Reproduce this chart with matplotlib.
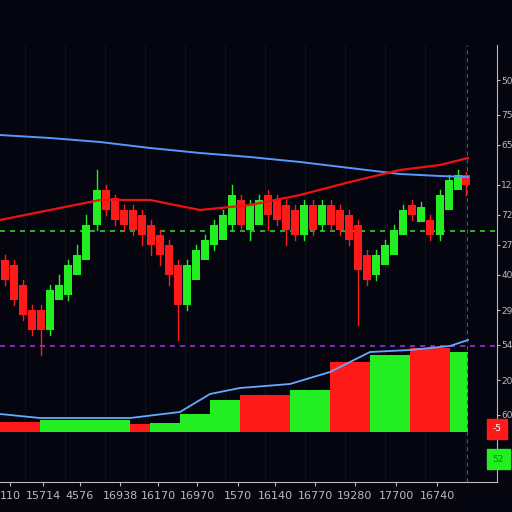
import numpy as np
import matplotlib.pyplot as plt
from matplotlib.patches import Rectangle

# candles: x centre, open, close, high, low (price units, higher = up)
cx = [5, 14, 23, 32, 41, 50, 59, 68, 77, 86, 97, 106, 115, 124, 133, 142, 151, 160, 169, 178,
      187, 196, 205, 214, 223, 232, 241, 250, 259, 268, 277, 286, 295, 304, 313, 322, 331, 340,
      349, 358, 367, 376, 385, 394, 403, 412, 421, 430, 440, 449, 458, 466]
c_open = [240, 235, 215, 190, 190, 170, 200, 205, 225, 240, 275, 310, 302, 290, 290, 285, 275, 265, 255, 235,
          195, 220, 240, 255, 260, 275, 300, 270, 275, 305, 300, 295, 290, 265, 295, 275, 295, 290,
          285, 275, 245, 225, 235, 245, 265, 295, 278, 280, 265, 290, 310, 325]
c_close = [220, 200, 185, 170, 170, 210, 215, 235, 245, 275, 310, 290, 280, 275, 270, 265, 255, 245, 225, 195,
           235, 250, 260, 275, 285, 305, 275, 295, 300, 285, 280, 270, 265, 295, 270, 295, 275, 270,
           260, 230, 220, 245, 255, 270, 290, 285, 293, 265, 305, 320, 325, 315]
c_high = [245, 240, 220, 195, 195, 215, 225, 240, 255, 285, 330, 315, 305, 295, 295, 290, 280, 270, 260, 240,
          240, 255, 265, 280, 290, 315, 305, 300, 305, 310, 305, 300, 295, 300, 300, 300, 300, 295,
          290, 280, 250, 250, 260, 275, 295, 300, 298, 285, 310, 325, 330, 328]
c_low = [215, 195, 180, 165, 145, 165, 210, 200, 240, 270, 270, 285, 275, 270, 265, 255, 245, 235, 215, 160,
         190, 245, 255, 250, 280, 270, 270, 260, 295, 270, 275, 255, 260, 260, 265, 270, 270, 265,
         255, 175, 215, 220, 250, 265, 285, 280, 288, 260, 260, 310, 320, 305]

# moving averages
ma_x = [0, 50, 100, 150, 200, 250, 300, 350, 400, 440, 468]
ma_blue = [365, 362, 358, 352, 347, 343, 338, 332, 326, 324, 323]
ma_red = [280, 290, 300, 300, 290, 295, 305, 318, 330, 335, 342]

# lower histogram (height above base) and colours
h_x = [0, 40, 130, 150, 180, 210, 240, 290, 330, 370, 410, 450, 468]
h_val = [10, 12, 8, 9, 18, 32, 37, 42, 70, 77, 84, 80]
h_col = ['r', 'g', 'r', 'g', 'g', 'g', 'r', 'g', 'r', 'g', 'r', 'g']
osc_x = [0, 40, 130, 180, 210, 240, 290, 330, 370, 410, 450, 468]
osc_y = [18, 14, 14, 20, 38, 44, 48, 60, 80, 82, 86, 92]

right_labels = ['50', '75', '65', '12', '72', '27', '40', '29', '54', '20', '60']
right_pos = [420, 385, 355, 315, 285, 255, 225, 190, 155, 120, 85]
x_labels = ['110', '15714', '4576', '16938', '16170', '16970', '1570', '16140',
            '16770', '19280', '17700', '16740']
x_pos = [10, 43, 80, 120, 158, 197, 238, 275, 315, 355, 396, 437]

GREEN = '#22ee22'
RED = '#ff1a1a'
BG = '#05050f'
base = 68

fig = plt.figure(figsize=(5.12, 5.12), dpi=100, facecolor=BG)
ax = fig.add_axes([0, 30 / 512, 497 / 512, 437 / 512], facecolor=BG)
ax.set_xlim(0, 497)
ax.set_ylim(18, 455)

for x in range(25, 497, 40):
    ax.axvline(x, color='#141428', lw=0.6, zorder=0)

# histogram
for i in range(len(h_val)):
    ax.add_patch(Rectangle((h_x[i], base), h_x[i + 1] - h_x[i], h_val[i],
                           color=GREEN if h_col[i] == 'g' else RED, lw=0, zorder=1))
ax.plot(osc_x, [base + v for v in osc_y], color='#66aaff', lw=1.3, zorder=2)

ax.axhline(269, color='#33cc33', ls=(0, (3, 3)), lw=1.2, zorder=1)
ax.axhline(154, color='#9933cc', ls=(0, (3, 3)), lw=1.2, zorder=1)
ax.axvline(467, color='#3355aa', ls=(0, (4, 3)), lw=0.8, zorder=1)

for x, o, c, h, l in zip(cx, c_open, c_close, c_high, c_low):
    col = GREEN if c >= o else RED
    ax.plot([x, x], [l, h], color=col, lw=1, zorder=3)
    ax.add_patch(Rectangle((x - 4, min(o, c)), 8, abs(c - o), color=col, lw=0, zorder=4))

ax.plot(ma_x, ma_blue, color='#5599ff', lw=1.4, zorder=5)
ax.plot(ma_x, ma_red, color='#ee1111', lw=1.6, zorder=5)

ax.spines[['top', 'left']].set_visible(False)
ax.spines[['right', 'bottom']].set_color('#bbbbbb')
ax.yaxis.tick_right()
ax.set_yticks(right_pos)
ax.set_yticklabels(right_labels, color='#aaaaaa', fontsize=6.5)
ax.set_xticks(x_pos)
ax.set_xticklabels(x_labels, color='#dddddd', fontsize=8)
ax.tick_params(axis='y', colors='#bbbbbb', length=2, pad=1)
ax.tick_params(axis='x', colors='#bbbbbb', length=3)

fig.text(0.962, 0.158, '-5', color='white', fontsize=6.5, backgroundcolor=RED)
fig.text(0.962, 0.098, '52', color='#118811', fontsize=6.5, backgroundcolor=GREEN)

fig.savefig('out.png', dpi=100, facecolor=BG)
